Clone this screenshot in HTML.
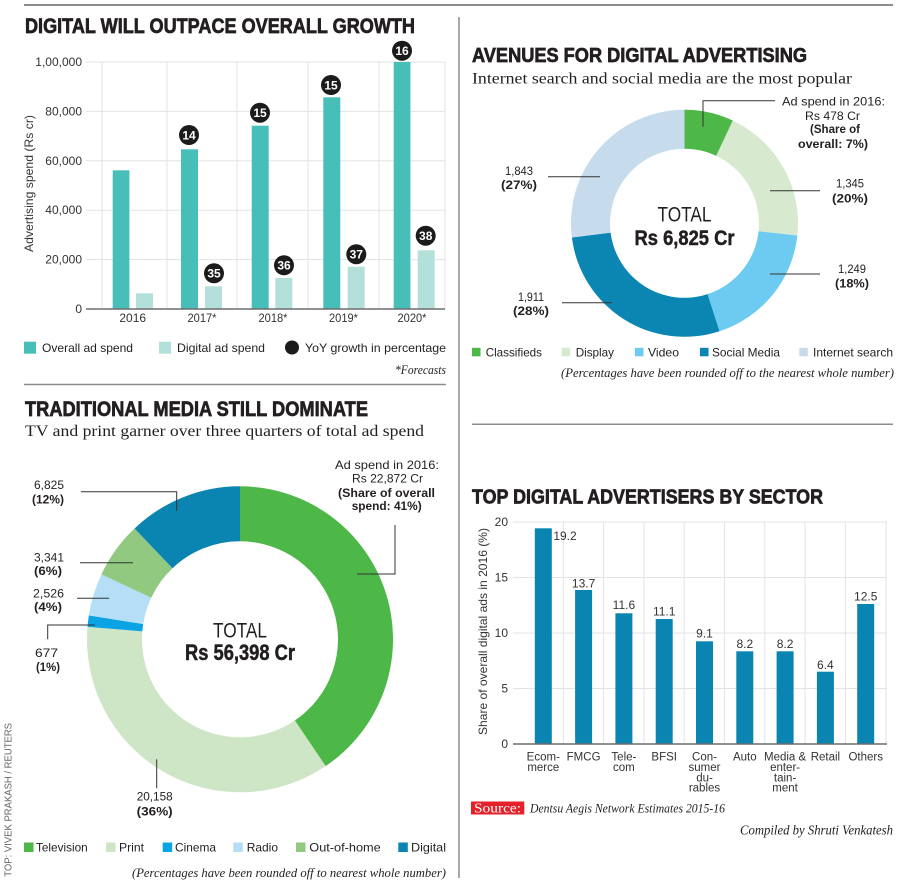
<!DOCTYPE html>
<html><head><meta charset="utf-8">
<style>
html,body{margin:0;padding:0;background:#fff}
svg{display:block}
.t{font-weight:bold;stroke:#231f20;stroke-width:0.7px}
.sf{font-family:"Liberation Serif",serif}
.it{font-family:"Liberation Serif",serif;font-style:italic}
.b{font-weight:bold}
.bt{font-weight:bold;stroke:#231f20;stroke-width:0.5px}
</style></head>
<body>
<svg width="900" height="887" viewBox="0 0 900 887" xmlns="http://www.w3.org/2000/svg" font-family="'Liberation Sans', sans-serif" fill="#231f20">
<rect width="900" height="887" fill="#fff"/>

<!-- rules -->
<line x1="24" y1="5" x2="893" y2="5" stroke="#8c8c8c" stroke-width="2"/>
<line x1="459" y1="17" x2="459" y2="878" stroke="#8c8c8c" stroke-width="1.5"/>
<line x1="24" y1="384.5" x2="446" y2="384.5" stroke="#8c8c8c" stroke-width="1.5"/>
<line x1="472" y1="424.3" x2="893" y2="424.3" stroke="#8c8c8c" stroke-width="1.5"/>

<!-- ===== TOP LEFT ===== -->
<text class="t" x="25" y="33" font-size="21" textLength="390" lengthAdjust="spacingAndGlyphs">DIGITAL WILL OUTPACE OVERALL GROWTH</text>
<g stroke="#e3e3e3" stroke-width="1">
<line x1="86" y1="62" x2="445" y2="62"/>
<line x1="86" y1="111.4" x2="445" y2="111.4"/>
<line x1="86" y1="160.8" x2="445" y2="160.8"/>
<line x1="86" y1="210.2" x2="445" y2="210.2"/>
<line x1="86" y1="259.6" x2="445" y2="259.6"/>
<line x1="102" y1="62" x2="102" y2="309"/>
<line x1="167" y1="62" x2="167" y2="309"/>
<line x1="237" y1="62" x2="237" y2="309"/>
<line x1="308" y1="62" x2="308" y2="309"/>
<line x1="379" y1="62" x2="379" y2="309"/>
<line x1="445" y1="62" x2="445" y2="309"/>
</g>
<g font-size="12" text-anchor="end" fill="#333">
<text x="82" y="66">1,00,000</text>
<text x="82" y="115.4">80,000</text>
<text x="82" y="164.8">60,000</text>
<text x="82" y="214.2">40,000</text>
<text x="82" y="263.6">20,000</text>
<text x="82" y="313">0</text>
</g>
<text transform="translate(33,183.5) rotate(-90)" text-anchor="middle" font-size="12" fill="#333" textLength="137" lengthAdjust="spacingAndGlyphs">Advertising spend (Rs cr)</text>
<g fill="#47bfb8">
<rect x="112.7" y="170.3" width="16.7" height="138.7"/>
<rect x="181" y="149.3" width="17" height="159.7"/>
<rect x="251.7" y="125.7" width="17" height="183.3"/>
<rect x="323.3" y="97.3" width="17" height="211.7"/>
<rect x="393.7" y="62" width="16.7" height="247"/>
</g>
<g fill="#b4e0dc">
<rect x="136" y="293.3" width="17" height="15.7"/>
<rect x="205" y="286.3" width="17" height="22.7"/>
<rect x="275.3" y="278" width="17" height="31"/>
<rect x="347.7" y="266.7" width="17" height="42.3"/>
<rect x="417.7" y="250.3" width="17" height="58.7"/>
</g>
<line x1="86" y1="309" x2="445" y2="309" stroke="#6d6d6d" stroke-width="1.5"/>
<g fill="#1b1b1b">
<circle cx="189" cy="135" r="10"/>
<circle cx="260" cy="112.7" r="10"/>
<circle cx="331" cy="85" r="10"/>
<circle cx="402" cy="50.7" r="10"/>
<circle cx="214" cy="273.3" r="10"/>
<circle cx="284" cy="265.3" r="10"/>
<circle cx="356.3" cy="254.3" r="10"/>
<circle cx="425.7" cy="235.7" r="10"/>
</g>
<g fill="#fff" font-size="12" font-weight="bold" text-anchor="middle">
<text x="189" y="139.3">14</text>
<text x="260" y="117">15</text>
<text x="331" y="89.3">15</text>
<text x="402" y="55">16</text>
<text x="214" y="277.6">35</text>
<text x="284" y="269.6">36</text>
<text x="356.3" y="258.6">37</text>
<text x="425.7" y="240">38</text>
</g>
<g font-size="12" text-anchor="middle" fill="#333">
<text x="132.7" y="322">2016</text>
<text x="202" y="322" textLength="29" lengthAdjust="spacingAndGlyphs">2017*</text>
<text x="273" y="322" textLength="29" lengthAdjust="spacingAndGlyphs">2018*</text>
<text x="343.5" y="322" textLength="29" lengthAdjust="spacingAndGlyphs">2019*</text>
<text x="412" y="322" textLength="29" lengthAdjust="spacingAndGlyphs">2020*</text>
</g>
<rect x="24" y="341.7" width="12" height="12" fill="#47bfb8"/>
<text x="42" y="352" font-size="12" textLength="91" lengthAdjust="spacingAndGlyphs">Overall ad spend</text>
<rect x="159" y="341.7" width="12" height="12" fill="#b4e0dc"/>
<text x="177" y="352" font-size="12" textLength="88" lengthAdjust="spacingAndGlyphs">Digital ad spend</text>
<circle cx="292" cy="347.5" r="7" fill="#1b1b1b"/>
<text x="305" y="352" font-size="12" textLength="141" lengthAdjust="spacingAndGlyphs">YoY growth in percentage</text>
<text class="it" x="446" y="374" font-size="13" text-anchor="end" textLength="51" lengthAdjust="spacingAndGlyphs">*Forecasts</text>

<!-- ===== BOTTOM LEFT ===== -->
<text class="t" x="25" y="416" font-size="21" textLength="343" lengthAdjust="spacingAndGlyphs">TRADITIONAL MEDIA STILL DOMINATE</text>
<text class="sf" x="25" y="436" font-size="16" textLength="399" lengthAdjust="spacingAndGlyphs">TV and print garner over three quarters of total ad spend</text>

<path d="M240,486.3 A153,153 0 0 1 325.59,766.12 L294.82,720.53 A98,98 0 0 0 240,541.3 Z" fill="#4db848"/>
<path d="M325.59,766.12 A153,153 0 0 1 87.50,626.87 L142.32,631.34 A98,98 0 0 0 294.82,720.53 Z" fill="#cfe6c6"/>
<path d="M87.50,626.87 A153,153 0 0 1 88.88,615.42 L143.20,624.0 A98,98 0 0 0 142.32,631.34 Z" fill="#0aa4e4"/>
<path d="M88.88,615.42 A153,153 0 0 1 101.44,574.37 L151.25,597.71 A98,98 0 0 0 143.20,624.0 Z" fill="#b5dff6"/>
<path d="M101.44,574.37 A153,153 0 0 1 134.55,528.44 L172.46,568.29 A98,98 0 0 0 151.25,597.71 Z" fill="#91c980"/>
<path d="M134.55,528.44 A153,153 0 0 1 240,486.3 L240,541.3 A98,98 0 0 0 172.46,568.29 Z" fill="#0a84b0"/>

<text x="240" y="637.3" font-size="21" text-anchor="middle" textLength="54" lengthAdjust="spacingAndGlyphs">TOTAL</text>
<text class="bt" x="240" y="660" font-size="22" text-anchor="middle" textLength="110" lengthAdjust="spacingAndGlyphs">Rs 56,398 Cr</text>

<g font-size="12" text-anchor="middle">
<text x="387" y="469" textLength="104" lengthAdjust="spacingAndGlyphs">Ad spend in 2016:</text>
<text x="387.5" y="482.5" textLength="71" lengthAdjust="spacingAndGlyphs">Rs 22,872 Cr</text>
<text class="b" x="386.5" y="497" textLength="97" lengthAdjust="spacingAndGlyphs">(Share of overall</text>
<text class="b" x="386.7" y="510" textLength="70" lengthAdjust="spacingAndGlyphs">spend: 41%)</text>
</g>
<g fill="none" stroke="#333" stroke-width="1">
<path d="M395,525 V574 H357"/>
<path d="M81,491.7 H176.7 V510.7"/>
<path d="M80,562.7 H133"/>
<path d="M77,598.3 H109"/>
<path d="M95,625 H47.7 V639.3"/>
<path d="M156.7,759.3 V788.3"/>
</g>
<g font-size="12">
<text x="34" y="489" textLength="30" lengthAdjust="spacingAndGlyphs">6,825</text>
<text class="b" x="32" y="503.5" textLength="32" lengthAdjust="spacingAndGlyphs">(12%)</text>
<text x="34" y="561.5" textLength="30" lengthAdjust="spacingAndGlyphs">3,341</text>
<text class="b" x="34" y="575" textLength="28" lengthAdjust="spacingAndGlyphs">(6%)</text>
<text x="33" y="597.5" textLength="31" lengthAdjust="spacingAndGlyphs">2,526</text>
<text class="b" x="34" y="611" textLength="28" lengthAdjust="spacingAndGlyphs">(4%)</text>
<text x="35" y="657" textLength="23" lengthAdjust="spacingAndGlyphs">677</text>
<text class="b" x="36" y="671" textLength="24" lengthAdjust="spacingAndGlyphs">(1%)</text>
<text x="154.7" y="800.7" text-anchor="middle" textLength="36" lengthAdjust="spacingAndGlyphs">20,158</text>
<text class="b" x="154.7" y="815.7" text-anchor="middle" textLength="36" lengthAdjust="spacingAndGlyphs">(36%)</text>
</g>

<g font-size="12">
<rect x="24" y="842.5" width="9.5" height="9.5" fill="#4db848"/>
<text x="36" y="851.5" textLength="51.7" lengthAdjust="spacingAndGlyphs">Television</text>
<rect x="106" y="842.5" width="9.5" height="9.5" fill="#cfe6c6"/>
<text x="119" y="851.5" textLength="25" lengthAdjust="spacingAndGlyphs">Print</text>
<rect x="162.7" y="842.5" width="9.5" height="9.5" fill="#0aa4e4"/>
<text x="175" y="851.5" textLength="41" lengthAdjust="spacingAndGlyphs">Cinema</text>
<rect x="233.3" y="842.5" width="9.5" height="9.5" fill="#b5dff6"/>
<text x="246.7" y="851.5" textLength="31.3" lengthAdjust="spacingAndGlyphs">Radio</text>
<rect x="296" y="842.5" width="9.5" height="9.5" fill="#91c980"/>
<text x="309.3" y="851.5" textLength="71.4" lengthAdjust="spacingAndGlyphs">Out-of-home</text>
<rect x="398.3" y="842.5" width="9.5" height="9.5" fill="#0a84b0"/>
<text x="411" y="851.5" textLength="35" lengthAdjust="spacingAndGlyphs">Digital</text>
</g>
<text class="it" x="132" y="877" font-size="13" textLength="314" lengthAdjust="spacingAndGlyphs">(Percentages have been rounded off to nearest whole number)</text>
<text transform="translate(11.7,876.7) rotate(-90)" font-size="10.5" fill="#666" textLength="153.7" lengthAdjust="spacingAndGlyphs">TOP: VIVEK PRAKASH / REUTERS</text>

<!-- ===== TOP RIGHT ===== -->
<text class="t" x="472" y="62" font-size="20" textLength="335" lengthAdjust="spacingAndGlyphs">AVENUES FOR DIGITAL ADVERTISING</text>
<text class="sf" x="472" y="83.5" font-size="16" textLength="380" lengthAdjust="spacingAndGlyphs">Internet search and social media are the most popular</text>

<path d="M684.5,109.8 A113.5,113.5 0 0 1 732.84,120.61 L716.23,155.89 A74.5,74.5 0 0 0 684.5,148.8 Z" fill="#4db848"/>
<path d="M732.84,120.61 A113.5,113.5 0 0 1 797.35,235.46 L758.57,231.28 A74.5,74.5 0 0 0 716.23,155.89 Z" fill="#d7e9cf"/>
<path d="M797.35,235.46 A113.5,113.5 0 0 1 719.54,331.26 L707.5,294.16 A74.5,74.5 0 0 0 758.57,231.28 Z" fill="#6dcbf1"/>
<path d="M719.54,331.26 A113.5,113.5 0 0 1 571.89,237.51 L610.59,232.62 A74.5,74.5 0 0 0 707.5,294.16 Z" fill="#0b86b3"/>
<path d="M571.89,237.51 A113.5,113.5 0 0 1 684.5,109.8 L684.5,148.8 A74.5,74.5 0 0 0 610.59,232.62 Z" fill="#c6dcec"/>

<text x="684.5" y="221.7" font-size="21" text-anchor="middle" textLength="54" lengthAdjust="spacingAndGlyphs">TOTAL</text>
<text class="bt" x="684.5" y="245" font-size="21" text-anchor="middle" textLength="100" lengthAdjust="spacingAndGlyphs">Rs 6,825 Cr</text>

<g font-size="12" text-anchor="middle">
<text x="833.5" y="105.5" textLength="103" lengthAdjust="spacingAndGlyphs">Ad spend in 2016:</text>
<text x="832.5" y="120" textLength="55" lengthAdjust="spacingAndGlyphs">Rs 478 Cr</text>
<text class="b" x="835" y="133" textLength="50" lengthAdjust="spacingAndGlyphs">(Share of</text>
<text class="b" x="833" y="148" textLength="70" lengthAdjust="spacingAndGlyphs">overall: 7%)</text>
<text x="519" y="175" textLength="28" lengthAdjust="spacingAndGlyphs">1,843</text>
<text class="b" x="519" y="189" textLength="36" lengthAdjust="spacingAndGlyphs">(27%)</text>
<text x="850" y="187.5" textLength="28" lengthAdjust="spacingAndGlyphs">1,345</text>
<text class="b" x="850" y="202.5" textLength="36" lengthAdjust="spacingAndGlyphs">(20%)</text>
<text x="852" y="273" textLength="28" lengthAdjust="spacingAndGlyphs">1,249</text>
<text class="b" x="852" y="287.5" textLength="34" lengthAdjust="spacingAndGlyphs">(18%)</text>
<text x="531" y="301" textLength="26" lengthAdjust="spacingAndGlyphs">1,911</text>
<text class="b" x="531" y="315" textLength="36" lengthAdjust="spacingAndGlyphs">(28%)</text>
</g>
<g fill="none" stroke="#333" stroke-width="1">
<path d="M775,100.7 H703 V126.7"/>
<path d="M548,176.7 H600"/>
<path d="M770,190.7 H820"/>
<path d="M770,274 H820"/>
<path d="M562,302.7 H612"/>
</g>

<g font-size="12">
<rect x="472" y="347.8" width="8.5" height="8.5" fill="#4db848"/>
<text x="485.7" y="356.5" textLength="56.3" lengthAdjust="spacingAndGlyphs">Classifieds</text>
<rect x="561.7" y="347.8" width="8.5" height="8.5" fill="#d7e9cf"/>
<text x="575.7" y="356.5" textLength="38.3" lengthAdjust="spacingAndGlyphs">Display</text>
<rect x="635" y="347.8" width="8.5" height="8.5" fill="#6dcbf1"/>
<text x="648" y="356.5" textLength="31" lengthAdjust="spacingAndGlyphs">Video</text>
<rect x="700" y="347.8" width="8.5" height="8.5" fill="#0b86b3"/>
<text x="712" y="356.5" textLength="68" lengthAdjust="spacingAndGlyphs">Social Media</text>
<rect x="799.3" y="347.8" width="8.5" height="8.5" fill="#c6dcec"/>
<text x="813" y="356.5" textLength="80" lengthAdjust="spacingAndGlyphs">Internet search</text>
</g>
<text class="it" x="561" y="377" font-size="13" textLength="333" lengthAdjust="spacingAndGlyphs">(Percentages have been rounded off to the nearest whole number)</text>

<!-- ===== BOTTOM RIGHT ===== -->
<text class="t" x="472" y="503.3" font-size="20" textLength="351" lengthAdjust="spacingAndGlyphs">TOP DIGITAL ADVERTISERS BY SECTOR</text>
<g stroke="#e3e3e3" stroke-width="1">
<line x1="513" y1="522" x2="887" y2="522"/>
<line x1="513" y1="577.5" x2="887" y2="577.5"/>
<line x1="513" y1="633" x2="887" y2="633"/>
<line x1="513" y1="688.5" x2="887" y2="688.5"/>
<line x1="563.3" y1="522" x2="563.3" y2="744"/>
<line x1="603.6" y1="522" x2="603.6" y2="744"/>
<line x1="643.9" y1="522" x2="643.9" y2="744"/>
<line x1="684.2" y1="522" x2="684.2" y2="744"/>
<line x1="724.5" y1="522" x2="724.5" y2="744"/>
<line x1="764.8" y1="522" x2="764.8" y2="744"/>
<line x1="805.1" y1="522" x2="805.1" y2="744"/>
<line x1="845.4" y1="522" x2="845.4" y2="744"/>
<line x1="886" y1="522" x2="886" y2="744"/>
</g>
<g font-size="12" text-anchor="end" fill="#333">
<text x="508" y="526">20</text>
<text x="508" y="581.5">15</text>
<text x="508" y="637">10</text>
<text x="508" y="692.5">5</text>
<text x="508" y="748">0</text>
</g>
<text transform="translate(487,631.5) rotate(-90)" text-anchor="middle" font-size="12" fill="#333" textLength="207" lengthAdjust="spacingAndGlyphs">Share of overall digital ads in 2016 (%)</text>
<g fill="#0a85b1">
<rect x="534.8" y="528.3" width="17" height="215.7"/>
<rect x="575.1" y="590" width="17" height="154"/>
<rect x="615.4" y="613.3" width="17" height="130.7"/>
<rect x="655.7" y="619" width="17" height="125"/>
<rect x="696" y="641.3" width="17" height="102.7"/>
<rect x="736.3" y="651.3" width="17" height="92.7"/>
<rect x="776.6" y="651.3" width="17" height="92.7"/>
<rect x="816.9" y="671.7" width="17" height="72.3"/>
<rect x="857.2" y="604" width="17" height="140"/>
</g>
<line x1="513" y1="744" x2="887" y2="744" stroke="#6d6d6d" stroke-width="1.5"/>
<g font-size="12" fill="#333" text-anchor="middle">
<text x="565" y="540">19.2</text>
<text x="583.6" y="587.3">13.7</text>
<text x="623.9" y="609">11.6</text>
<text x="664.2" y="615.7">11.1</text>
<text x="704.5" y="637.3">9.1</text>
<text x="744.8" y="648">8.2</text>
<text x="785.1" y="648">8.2</text>
<text x="825.4" y="669">6.4</text>
<text x="865.7" y="600.7">12.5</text>
</g>
<g font-size="11.5" fill="#333" text-anchor="middle">
<text x="543.3" y="760.7">Ecom-</text>
<text x="543.3" y="771.2">merce</text>
<text x="583.6" y="760.7">FMCG</text>
<text x="623.9" y="760.7">Tele-</text>
<text x="623.9" y="771.2">com</text>
<text x="664.2" y="760.7">BFSI</text>
<text x="704.5" y="760.7">Con-</text>
<text x="704.5" y="771.2">sumer</text>
<text x="704.5" y="781.5">du-</text>
<text x="704.5" y="791.7">rables</text>
<text x="744.8" y="760.7">Auto</text>
<text x="785.1" y="760.7">Media &amp;</text>
<text x="785.1" y="771.2">enter-</text>
<text x="785.1" y="781.5">tain-</text>
<text x="785.1" y="791.7">ment</text>
<text x="825.4" y="760.7">Retail</text>
<text x="865.7" y="760.7">Others</text>
</g>
<rect x="471" y="801.5" width="53.3" height="13" fill="#e4202a"/>
<text class="sf" x="474" y="812.5" font-size="14" fill="#fff" textLength="47" lengthAdjust="spacingAndGlyphs">Source:</text>
<text class="it" x="530" y="812.5" font-size="13" textLength="195" lengthAdjust="spacingAndGlyphs">Dentsu Aegis Network Estimates 2015-16</text>
<text class="it" x="893" y="834.5" font-size="14" text-anchor="end" textLength="153" lengthAdjust="spacingAndGlyphs">Compiled by Shruti Venkatesh</text>
</svg>
</body></html>
